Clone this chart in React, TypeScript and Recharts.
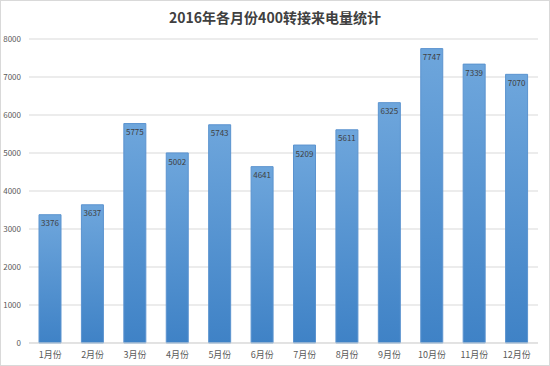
import React from 'react';
import { BarChart, Bar, XAxis, YAxis, CartesianGrid, LabelList } from 'recharts';

const months = ['1月份', '2月份', '3月份', '4月份', '5月份', '6月份', '7月份', '8月份', '9月份', '10月份', '11月份', '12月份'];
const calls = [3376, 3637, 5775, 5002, 5743, 4641, 5209, 5611, 6325, 7747, 7339, 7070];
const yTicks = [0, 1000, 2000, 3000, 4000, 5000, 6000, 7000, 8000];

const FONT = '"Noto Sans CJK SC", "Noto Sans", sans-serif';

const App: React.FC = () => {
  const data = months.map((m, i) => ({ month: m, value: calls[i] }));

  return (
    <div
      style={{
        position: 'absolute',
        top: 0,
        left: 0,
        width: 550,
        height: 366,
        boxSizing: 'border-box',
        border: '1px solid #d9d9d9',
        background: '#fff',
        fontFamily: FONT,
      }}
    >
      <div
        style={{
          position: 'absolute',
          top: 6,
          left: 0,
          width: 548,
          textAlign: 'center',
          fontSize: 14,
          fontWeight: 'bold',
          color: '#404040',
        }}
      >
        2016年各月份400转接来电量统计
      </div>
      <div style={{ position: 'absolute', top: -1, left: -1 }}>
        <BarChart width={550} height={366} data={data} margin={{ top: 39, right: 12, bottom: 0, left: 0 }}>
          <defs>
            <linearGradient id="barFill" x1="0" y1="0" x2="0" y2="1">
              <stop offset="0%" stopColor="#6ea6dc" />
              <stop offset="100%" stopColor="#3f82c6" />
            </linearGradient>
          </defs>
          <CartesianGrid vertical={false} stroke="#d9d9d9" />
          <XAxis
            dataKey="month"
            height={23}
            tickLine={false}
            axisLine={{ stroke: '#d9d9d9' }}
            tick={{ fontSize: 9, fill: '#595959', fontFamily: FONT }}
            tickMargin={3}
            interval={0}
          />
          <YAxis
            width={29}
            domain={[0, 8000]}
            ticks={yTicks}
            tickLine={false}
            axisLine={false}
            tick={{ fontSize: 8, fill: '#595959', fontFamily: FONT }}
          />
          <Bar dataKey="value" barSize={22} fill="url(#barFill)" stroke="#5b93cf" isAnimationActive={false}>
            <LabelList dataKey="value" position="insideTop" offset={6} style={{ fontSize: 8, fill: '#404040', fontFamily: FONT }} />
          </Bar>
        </BarChart>
      </div>
    </div>
  );
};

export default App;
